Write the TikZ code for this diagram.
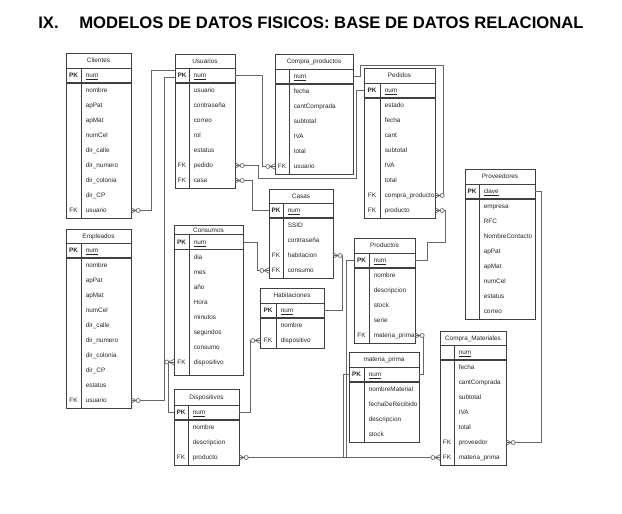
\documentclass[tikz,border=0pt]{standalone}
\usepackage{fontspec}
\setmainfont{Liberation Sans}
\usetikzlibrary{calc}
\tikzset{
 box/.style={draw=black!75, line width=0.5pt},
 pkline/.style={draw=black!75, line width=0.9pt},
 conn/.style={draw=black!60, line width=0.5pt},
 fld/.style={font=\fontsize{4.8}{5}\selectfont, text=black!85, inner xsep=0pt, inner ysep=0pt, text height=3.4pt, text depth=0pt, anchor=west},
 keyl/.style={fld, anchor=center},
 hdr/.style={fld, anchor=center},
 ttl/.style={font=\fontsize{12.5}{14}\selectfont\bfseries, inner sep=0pt, anchor=west, text height=9pt, text depth=0pt},
}
% #1 id, #2 title, #3 L, #4 D, #5 R, #6 T, #7 header h, #8 bottom pad, #9 rows
\newcommand\ertab[9]{%
 \foreach \rowkey/\rowtext [count=\i from 0] in {#9}{%
   \pgfmathsetmacro\yc{#6+#7+\i*15+7.5}%
   \node[keyl] (#1-k\i) at ({(#3+#4)/2},\yc) {\rowkey};
   \node[fld] (#1-f\i) at ({#4+4.5},\yc) {\rowtext};
   \coordinate (#1-\i-L) at (#3,\yc);
   \coordinate (#1-\i-R) at (#5,\yc);
   \xdef\nrows{\i}%
 }%
 \pgfmathsetmacro\yb{#6+#7+(\nrows+1)*15+#8}%
 \draw[box] (#3,#6) rectangle (#5,\yb);
 \draw[box] (#3,#6+#7) -- (#5,#6+#7);
 \draw[pkline] (#3,#6+#7+15) -- (#5,#6+#7+15);
 \draw[box] (#4,#6+#7) -- (#4,\yb);
 \node[hdr] (#1-h) at ({(#3+#5)/2},{#6+#7/2}) {#2};
}
% zero-to-many marker: #1 coordinate on box edge, #2 = 1 (outward right) or -1 (outward left)
\newcommand\zm[2]{%
 \draw[conn] ($(#1)+(0,-2.8)$) -- ($(#1)+(#2*5,0)$) -- ($(#1)+(0,2.8)$);
 \draw[conn] (#1) -- ($(#1)+(#2*5,0)$);
 \draw[conn,fill=white] ($(#1)+(#2*7.2,0)$) circle[radius=1.5pt];
}
\begin{document}
\begin{tikzpicture}[x=0.75pt,y=-0.75pt]
\useasboundingbox (0,0) rectangle (622,514);
\fill[white] (0,0) rectangle (622,514);

\node[ttl] (title1) at (38,22) {IX.};
\node[ttl] (title2) at (79,22) {MODELOS DE DATOS FISICOS: BASE DE DATOS RELACIONAL};

\ertab{Cli}{Clientes}{66}{81}{131}{53}{15}{0}{\textbf{PK}/\underline{num}, {}/nombre, {}/apPat, {}/apMat, {}/numCel, {}/dir\_calle, {}/dir\_numero, {}/dir\_colonia, {}/dir\_CP, FK/usuario}
\ertab{Emp}{Empleados}{66}{81}{131}{229}{14}{0}{\textbf{PK}/\underline{num}, {}/nombre, {}/apPat, {}/apMat, {}/numCel, {}/dir\_calle, {}/dir\_numero, {}/dir\_colonia, {}/dir\_CP, {}/estatus, FK/usuario}
\ertab{Usu}{Usuarios}{175}{189}{235}{54}{14}{0}{\textbf{PK}/\underline{num}, {}/usuario, {}/contraseña, {}/correo, {}/rol, {}/estatus, FK/pedido, FK/casa}
\ertab{CPr}{Compra\_productos}{275}{289}{353}{54}{15}{0}{{}/\underline{num}, {}/fecha, {}/cantComprada, {}/subtotal, {}/IVA, {}/total, FK/usuario}
\ertab{Ped}{Pedidos}{364}{380}{435}{68}{15}{0}{\textbf{PK}/\underline{num}, {}/estado, {}/fecha, {}/cant, {}/subtotal, {}/IVA, {}/total, FK/compra\_producto, FK/producto}
\ertab{Prov}{Proveedores}{465}{479}{535}{169}{15}{0}{\textbf{PK}/\underline{clave}, {}/empresa, {}/RFC, {}/NombreContacto, {}/apPat, {}/apMat, {}/numCel, {}/estatus, {}/correo}
\ertab{Cons}{Consumos}{174}{189}{243}{225}{9.5}{6}{\textbf{PK}/\underline{num}, {}/dia, {}/mes, {}/año, {}/Hora, {}/minutos, {}/segundos, {}/consumo, FK/dispositivo}
\ertab{Casas}{Casas}{269}{283}{333}{189}{14}{0}{\textbf{PK}/\underline{num}, {}/SSID, {}/contraseña, FK/habitacion, FK/consumo}
\ertab{Hab}{Habitaciones}{260}{276}{324}{288}{15}{0}{\textbf{PK}/\underline{num}, {}/nombre, FK/dispositivo}
\ertab{Prod}{Productos}{354}{369}{415}{238}{15}{0}{\textbf{PK}/\underline{num}, {}/nombre, {}/descripcion, {}/stock, {}/serie, FK/materia\_prima}
\ertab{MP}{materia\_prima}{349}{364}{419}{352}{15}{0}{\textbf{PK}/\underline{num}, {}/nombreMaterial, {}/fechaDeRecibido, {}/descripcion, {}/stock}
\ertab{CM}{Compra\_Materiales}{440}{454}{506}{331}{14}{0}{{}/\underline{num}, {}/fecha, {}/cantComprada, {}/subtotal, {}/IVA, {}/total, FK/proveedor, FK/materia\_prima}
\ertab{Disp}{Dispositivos}{174}{188}{239}{389}{16}{0}{\textbf{PK}/\underline{num}, {}/nombre, {}/descripcion, FK/producto}

% connectors
\draw[conn] (Cli-9-R) -- ++(20,0) |- ($(Usu-0-L)+(0,-5.5)$);
\draw[conn] (Emp-10-R) -- ++(33,0) |- ($(Usu-0-L)+(0,1.5)$);
\draw[conn] (Usu-0-R) -- ++(27,0) |- (CPr-6-L);
\draw[conn] (Usu-6-R) -- ++(23,0) |- (356,178) |- (Ped-0-L);
\draw[conn] (Usu-7-R) -- ++(17,0) |- (Casas-0-L);
\draw[conn] (CPr-0-R) -- ++(7,0) |- (443,65) |- (Ped-7-R);
\draw[conn] (Ped-8-R) -- ++(10,0) |- (427,242) |- (Prod-0-R);
\draw[conn] (Prov-0-R) -- ++(6,0) |- (CM-6-R);
\draw[conn] (Casas-3-R) -- ++(9,0) |- (Hab-0-R);
\draw[conn] (Cons-0-R) -- ++(14,0) |- (Casas-4-L);
\draw[conn] (Hab-2-L) -- ++(-10,0) |- (Disp-0-R);
\draw[conn] (Cons-8-L) -- ++(-6,0) |- (Disp-0-L);
\draw[conn] (Disp-3-R) -- ++(107,0) |- (Prod-0-L);
\draw[conn] (Prod-5-R) -- ++(8,0) |- (MP-0-R);
\draw[conn] (MP-0-L) -- ++(-6,0) |- (CM-7-L);

% markers
\zm{Cli-9-R}{1}
\zm{Emp-10-R}{1}
\zm{Usu-6-R}{1}
\zm{Usu-7-R}{1}
\zm{CPr-6-L}{-1}
\zm{Ped-7-R}{1}
\zm{Ped-8-R}{1}
\zm{Casas-3-R}{1}
\zm{Casas-4-L}{-1}
\zm{Hab-2-L}{-1}
\zm{Cons-8-L}{-1}
\zm{Prod-5-R}{1}
\zm{Disp-3-R}{1}
\zm{CM-6-R}{1}
\zm{CM-7-L}{-1}
\end{tikzpicture}
\end{document}
